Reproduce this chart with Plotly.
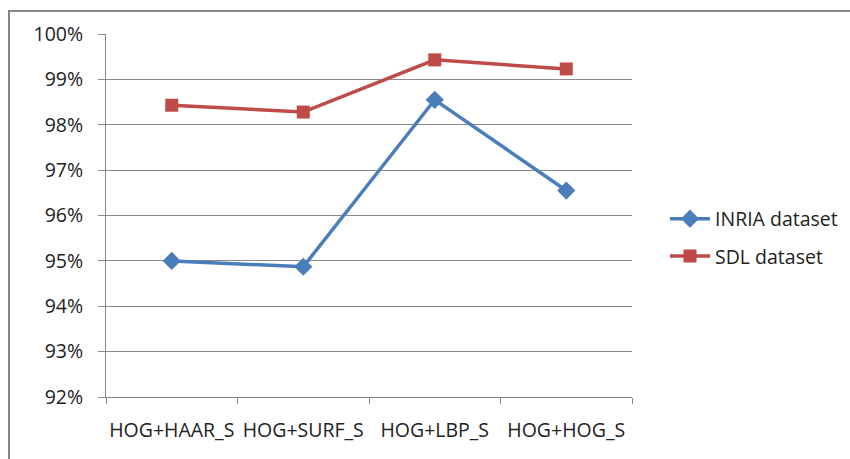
import plotly.graph_objects as go

categories = ["HOG+HAAR_S", "HOG+SURF_S", "HOG+LBP_S", "HOG+HOG_S"]
inria = [95.00, 94.87, 98.55, 96.55]
sdl = [98.43, 98.28, 99.43, 99.23]
y_ticks = [92, 93, 94, 95, 96, 97, 98, 99, 100]
y_labels = [f"{v}%" for v in y_ticks]

FONT = "Open Sans, Liberation Sans, sans-serif"
FS = 19.5

fig = go.Figure()
fig.add_trace(go.Scatter(
    x=categories, y=inria, name="INRIA dataset", mode="lines+markers",
    legendgroup="inria",
    line=dict(color="#4a7ebb", width=3.5),
    marker=dict(symbol="diamond", size=14, color="#4a7ebb"),
))
fig.add_trace(go.Scatter(
    x=categories, y=sdl, name="SDL dataset", mode="lines+markers",
    legendgroup="sdl",
    line=dict(color="#be4b48", width=3.5),
    marker=dict(symbol="square", size=13, color="#be4b48"),
))

W, H = 850, 459
L, R, T, B = 106, 218, 34, 62
pw, ph = W - L - R, H - T - B

# outer chart frame (left and top edges visible)
fig.add_shape(type="rect", xref="paper", yref="paper",
              x0=(9 - L) / pw, x1=(W + 20 - L) / pw,
              y0=-(H + 20 - T - ph) / ph, y1=1 + (T - 11) / ph,
              line=dict(color="#868686", width=2), layer="below")

fig.update_layout(
    width=W, height=H,
    margin=dict(l=L, r=R, t=T, b=B, autoexpand=False),
    paper_bgcolor="white", plot_bgcolor="white",
    font=dict(family=FONT, size=FS, color="#222222"),
    showlegend=True,
    legend=dict(x=(665 - L) / pw, y=(397 - 237.5) / ph,
                xanchor="left", yanchor="middle",
                font=dict(family=FONT, size=FS, color="#222222"),
                itemwidth=40, tracegroupgap=9, bgcolor="rgba(0,0,0,0)"),
    xaxis=dict(type="category", range=[-0.5, 3.5], tickson="boundaries",
               ticks="outside", ticklen=6, tickcolor="#868686",
               showline=True, linecolor="#868686", linewidth=1,
               showgrid=False, zeroline=False, ticklabelstandoff=16,
               tickangle=0, automargin=False,
               tickfont=dict(family=FONT, size=FS, color="#222222")),
    yaxis=dict(range=[92, 100], tickvals=y_ticks, ticktext=y_labels,
               ticks="outside", ticklen=7, tickcolor="#868686",
               showline=True, linecolor="#868686", linewidth=1,
               showgrid=True, gridcolor="#8a8a8a", gridwidth=1,
               zeroline=False, ticklabelstandoff=11, automargin=False,
               tickfont=dict(family=FONT, size=FS, color="#222222")),
)

fig.write_html("out.html")
